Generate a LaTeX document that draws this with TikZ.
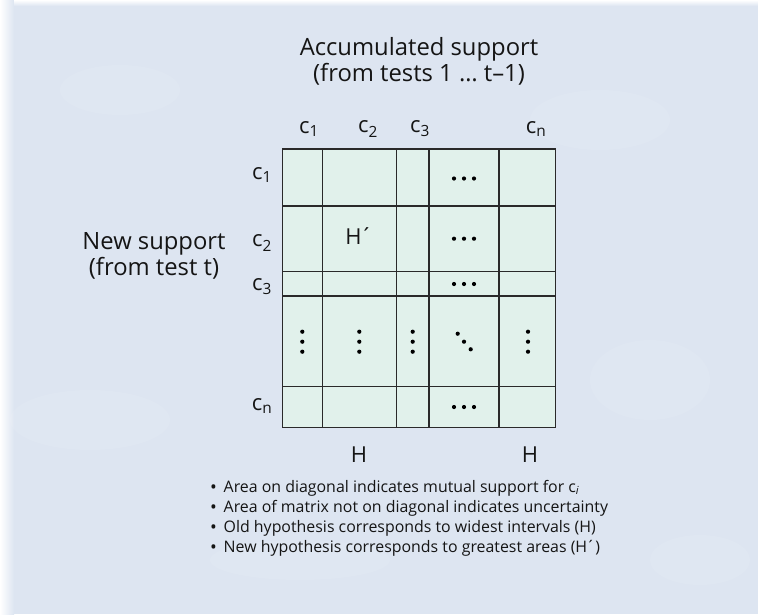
\documentclass[tikz,border=0pt]{standalone}
\usepackage{fontspec}
\setmainfont{Open Sans}
\definecolor{bgcol}{HTML}{DDE5F1}
\definecolor{cellcol}{HTML}{E1F1EB}
\definecolor{gridcol}{HTML}{2A2A2A}
\definecolor{inkcol}{HTML}{151515}
\newcommand{\bul}{\makebox[13.5pt][l]{\raisebox{-1.6pt}{\fontsize{18}{20}\selectfont •}}}
\begin{document}
\begin{tikzpicture}[x=1pt,y=-1pt,
  big/.style={font=\fontsize{23.8}{26}\selectfont, text=inkcol, inner sep=0pt, align=center},
  lab/.style={font=\fontsize{22}{25}\selectfont, text=inkcol, inner sep=0pt},
  note/.style={font=\fontsize{15.9}{20}\selectfont, text=inkcol, inner sep=0pt, anchor=west},
  gridline/.style={draw=gridcol, line width=1.4pt},
  dot/.style={fill=black}]
\useasboundingbox (0,0) rectangle (758,614);
% background with faint light edges
\fill[bgcol] (0,0) rectangle (758,614);
\shade[left color=white, right color=bgcol] (0,0) rectangle (14,614);
\shade[top color=white, bottom color=bgcol] (14,0) rectangle (758,6);
\foreach \x/\y/\a/\b in {120/90/60/25, 600/120/70/30, 90/420/80/30, 650/380/60/40, 300/560/90/20, 700/560/50/25}
  \fill[white, opacity=0.08] (\x,\y) ellipse [x radius=\a, y radius=\b];

% matrix grid
\def\xa{282.3}\def\xb{322.3}\def\xc{396.3}\def\xd{429}\def\xe{499}\def\xf{555.7}
\def\ya{149}\def\yb{206}\def\yc{271.3}\def\yd{296}\def\ye{386.7}\def\yf{427.3}
\fill[cellcol] (\xa,\ya) rectangle (\xf,\yf);
\foreach \x in {\xb,\xc,\xd,\xe} \draw[gridline] (\x,\ya) -- (\x,\yf);
\foreach \y in {\yb,\yc,\yd,\ye} \draw[gridline] (\xa,\y) -- (\xf,\y);
\draw[gridline] (\xa,\ya) rectangle (\xf,\yf);

% headings
\node[big] (acc) at (419,61) {Accumulated support\\(from tests 1 \ldots\ t–1)};
\node[big] (new) at (154,256) {New support\\(from test t)};

% column labels
\node[lab] (col1) at (309,129) {c\textsubscript{1}};
\node[lab] (col2) at (368,129) {c\textsubscript{2}};
\node[lab] (col3) at (420,129) {c\textsubscript{3}};
\node[lab] (coln) at (536,129) {c\textsubscript{n}};

% row labels
\node[lab] (row1) at (262,175) {c\textsubscript{1}};
\node[lab] (row2) at (262,243) {c\textsubscript{2}};
\node[lab] (row3) at (262,287) {c\textsubscript{3}};
\node[lab] (rown) at (262,406) {c\textsubscript{n}};

% cell contents
\node[lab] (hp) at (359,236) {H\kern-1.5pt´};
\foreach \y in {178.5,238.7,284,407}
  \foreach \dx in {-10,0,10} \fill[dot] (464+\dx,\y) circle (2.1);
\foreach \x in {302.3,359.3,412.7,528}
  \foreach \dy in {-10,0,10} \fill[dot] (\x,341.7+\dy) circle (2.1);
\foreach \dx/\dy in {-6.3/-8,0/0,6.7/7.6} \fill[dot] (464+\dx,341.7+\dy) circle (2.1);

% interval labels
\node[lab] (h1) at (359,455) {H};
\node[lab] (h2) at (530,455) {H};

% notes
\node[note] (n1) at (210,488) {\bul Area on diagonal indicates mutual support for c\textsubscript{\itshape i}};
\node[note] (n2) at (210,508) {\bul Area of matrix not on diagonal indicates uncertainty};
\node[note] (n3) at (210,528) {\bul Old hypothesis corresponds to widest intervals (H)};
\node[note] (n4) at (210,548) {\bul New hypothesis corresponds to greatest areas (H\kern-1pt´)};
\end{tikzpicture}
\end{document}
